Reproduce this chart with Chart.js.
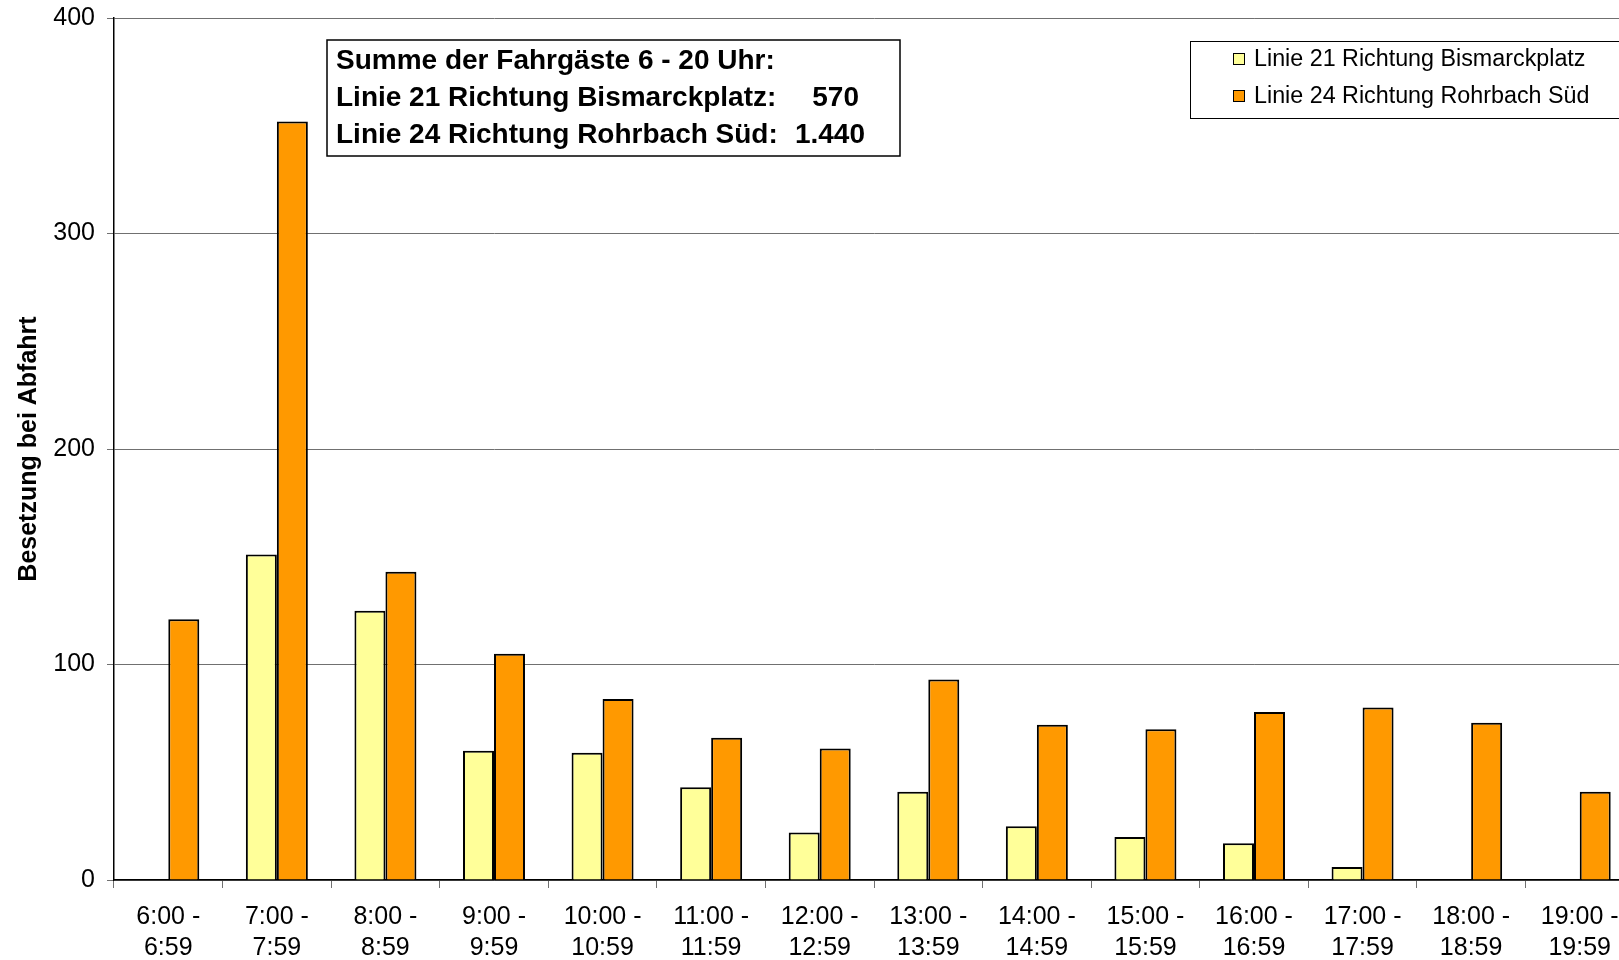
<!DOCTYPE html>
<html>
<head>
<meta charset="utf-8">
<script src="https://cdn.jsdelivr.net/npm/chart.js@4/dist/chart.umd.min.js"></script>
<style>
  html, body { margin: 0; padding: 0; background: #fff; overflow: hidden; }
  #wrap { width: 1660px; height: 960px; }
</style>
</head>
<body>
<div id="wrap"><canvas id="myChart" width="1660" height="960"></canvas></div>
<script>
const timeLabels = [
  ["6:00 -", "6:59"], ["7:00 -", "7:59"], ["8:00 -", "8:59"], ["9:00 -", "9:59"],
  ["10:00 -", "10:59"], ["11:00 -", "11:59"], ["12:00 -", "12:59"], ["13:00 -", "13:59"],
  ["14:00 -", "14:59"], ["15:00 -", "15:59"], ["16:00 -", "16:59"], ["17:00 -", "17:59"],
  ["18:00 -", "18:59"], ["19:00 -", "19:59"]
];
const linie21 = [0, 151, 125, 60, 59, 43, 22, 41, 25, 20, 17, 6, 0, 0];
const linie24 = [121, 352, 143, 105, 84, 66, 61, 93, 72, 70, 78, 80, 73, 41];
const seriesNames = ["Linie 21 Richtung Bismarckplatz", "Linie 24 Richtung Rohrbach Süd"];
const seriesColors = ["#FFFF99", "#FF9900"];
const yTicks = [0, 100, 200, 300, 400];
const summaryLines = [
  ["Summe der Fahrgäste 6 - 20 Uhr:", ""],
  ["Linie 21 Richtung Bismarckplatz:", "570"],
  ["Linie 24 Richtung Rohrbach Süd:", "1.440"]
];

const FONT = "'Liberation Sans', Arial, sans-serif";

// text box with the totals and the legend box, drawn on top of the chart
const boxesPlugin = {
  id: "boxes",
  afterDraw(chart) {
    const ctx = chart.ctx;
    ctx.save();

    // summary box
    ctx.fillStyle = "#fff";
    ctx.fillRect(327, 40, 573, 116);
    ctx.strokeStyle = "#000";
    ctx.lineWidth = 1.5;
    ctx.strokeRect(327, 40, 573, 116);
    ctx.fillStyle = "#000";
    ctx.font = "bold 28px " + FONT;
    ctx.textBaseline = "middle";
    summaryLines.forEach((line, i) => {
      const y = 61 + i * 37;
      ctx.textAlign = "left";
      ctx.fillText(line[0], 336, y);
      if (line[1]) {
        ctx.textAlign = "right";
        ctx.fillText(line[1], i === 1 ? 859 : 865, y);
      }
    });

    // legend
    ctx.fillStyle = "#fff";
    ctx.fillRect(1190, 41, 460, 77);
    ctx.strokeStyle = "#000";
    ctx.lineWidth = 1;
    ctx.strokeRect(1190.5, 41.5, 460, 77);
    ctx.font = "23.3px " + FONT;
    ctx.textAlign = "left";
    seriesNames.forEach((name, i) => {
      const y = 59 + i * 37;
      ctx.fillStyle = seriesColors[i];
      ctx.fillRect(1233, y - 6, 12, 12);
      ctx.strokeStyle = "#000";
      ctx.strokeRect(1233.5, y - 5.5, 11, 11);
      ctx.fillStyle = "#000";
      ctx.fillText(name, 1254, y + 1);
    });
    ctx.restore();
  }
};

const ctx = document.getElementById("myChart");
new Chart(ctx, {
  type: "bar",
  data: {
    labels: timeLabels,
    datasets: [
      {
        label: seriesNames[0],
        data: linie21,
        backgroundColor: seriesColors[0],
        borderColor: "#000",
        borderWidth: 2,
      },
      {
        label: seriesNames[1],
        data: linie24,
        backgroundColor: seriesColors[1],
        borderColor: "#000",
        borderWidth: 2,
      },
    ],
  },
  options: {
    responsive: false,
    animation: false,
    layout: { padding: { left: 0, top: 18, right: 26, bottom: 0 } },
    datasets: { bar: { categoryPercentage: 0.571, barPercentage: 1.0 } },
    plugins: { legend: { display: false }, tooltip: { enabled: false } },
    scales: {
      x: {
        grid: { offset: true, drawOnChartArea: false, color: "#707070", tickLength: 8 },
        border: { color: "#000", width: 1.5 },
        ticks: {
          color: "#000",
          font: { family: FONT, size: 25, lineHeight: 1.22 },
          padding: 14,
          maxRotation: 0,
          autoSkip: false,
        },
        afterFit(scale) { scale.height = 80; },
      },
      y: {
        min: 0,
        max: 400,
        afterBuildTicks(scale) { scale.ticks = yTicks.map((v) => ({ value: v })); },
        grid: { color: "#707070", tickLength: 7 },
        border: { color: "#000", width: 1.5 },
        ticks: {
          color: "#000",
          font: { family: FONT, size: 25 },
          padding: 12,
        },
        title: {
          display: true,
          text: "Besetzung bei Abfahrt",
          color: "#000",
          font: { family: FONT, size: 25, weight: "bold" },
          padding: { top: 14, bottom: 0 },
        },
        afterFit(scale) {
          scale.width = 114;
          scale.paddingTop = 0;
          scale.paddingBottom = 0;
        },
      },
    },
  },
  plugins: [boxesPlugin],
});
</script>
</body>
</html>
